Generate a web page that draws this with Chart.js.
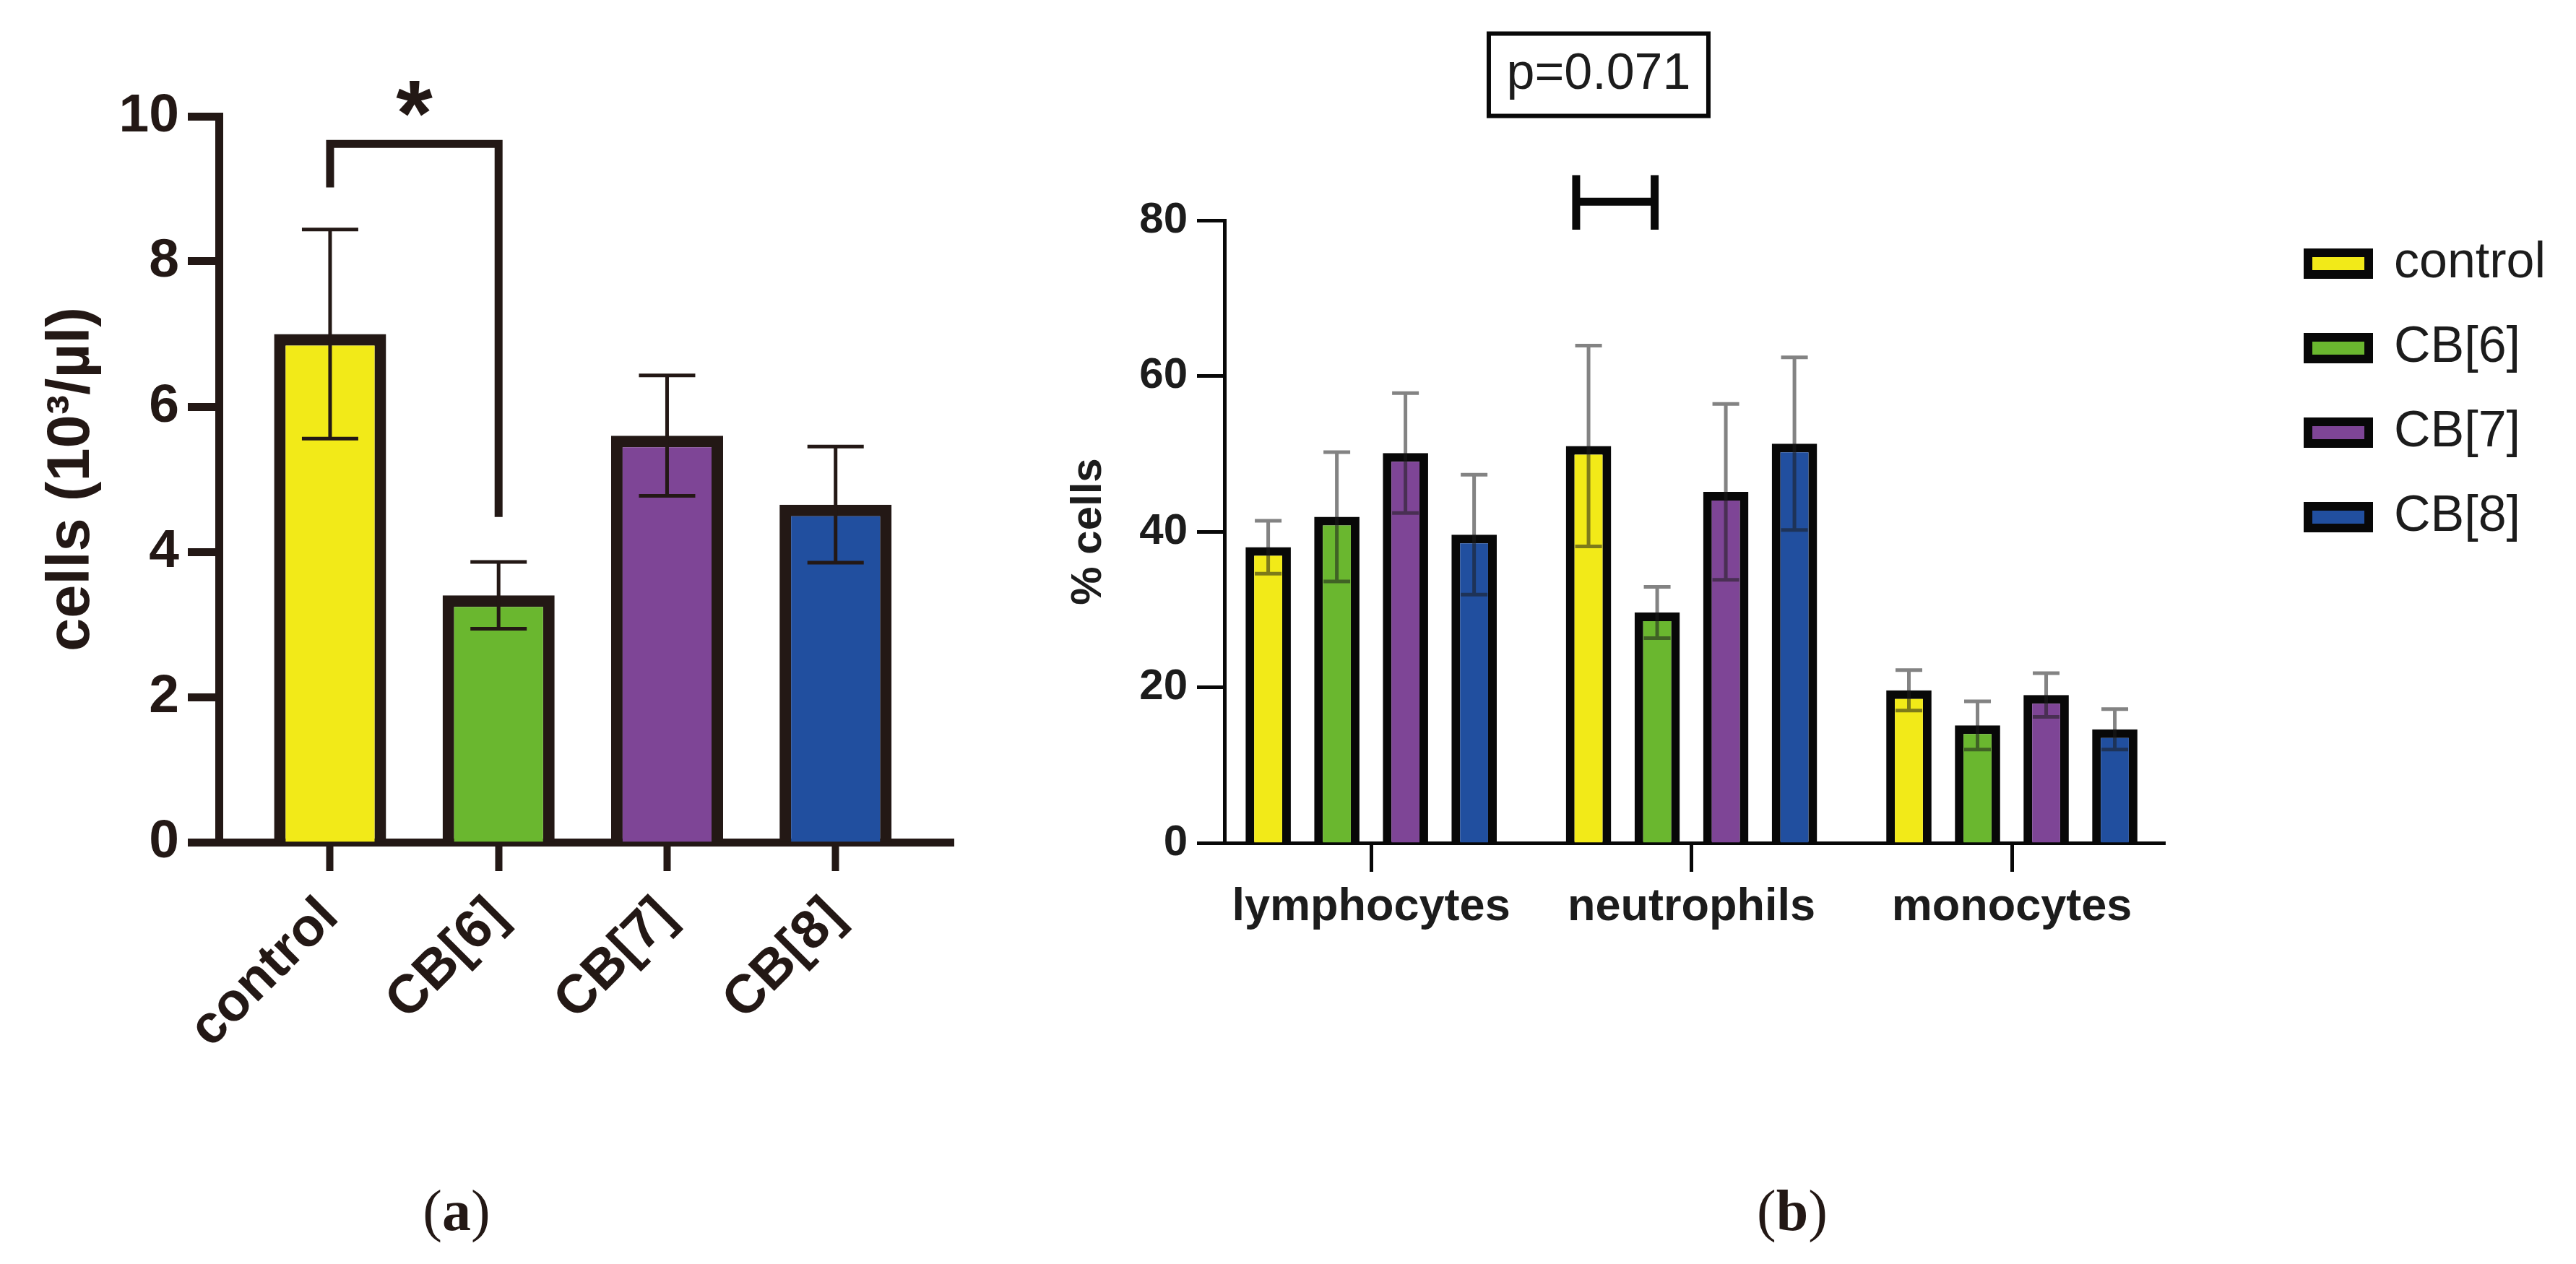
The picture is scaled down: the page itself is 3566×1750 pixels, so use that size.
<!DOCTYPE html>
<html lang="en">
  <head>
    <meta charset="UTF-8" />
    <title>Blood cell counts</title>
    <style>
      body { margin: 0; width: 3566px; height: 1750px; background: #fff; position: relative; overflow: hidden; }
      .panel { position: absolute; top: 0; }
      .caption { position: absolute; top: 1626px; width: 200px; margin-left: -100px; text-align: center;
                 font: 80px/100px "Liberation Serif", "Times New Roman", serif; color: #231815; }
    </style>
  </head>
  <body>
    <canvas id="chartA" class="panel" width="1500" height="1750" style="left:0"></canvas>
    <canvas id="chartB" class="panel" width="2116" height="1750" style="left:1450px"></canvas>
    <div class="caption" style="left:632px">(<b>a</b>)</div>
    <div class="caption" style="left:2481px">(<b>b</b>)</div>
  </body>
  <script src="https://cdn.jsdelivr.net/npm/chart.js@4"></script>
  <script>
    Chart.defaults.font.family = '"Liberation Sans", Arial, sans-serif';
    Chart.defaults.animation = false;

    // (a) total white cells
    const groupsA = ["control", "CB[6]", "CB[7]", "CB[8]"];
    const countsA = [7.0, 3.4, 5.6, 4.65];
    const countsSdA = [1.44, 0.46, 0.83, 0.8];
    const yTicksA = [0, 2, 4, 6, 8, 10];
    const sigPairA = [0, 1];              // bars joined by the bracket
    const sigLevelsA = [9.62, 9.02, 4.48, 10.24]; // top, left end, right end, star

    // (b) differential count, % cells
    const cellTypes = ["lymphocytes", "neutrophils", "monocytes"];
    const seriesNames = ["control", "CB[6]", "CB[7]", "CB[8]"];
    const controlPct = [38.0, 51.0, 19.6];
    const cb6Pct = [41.9, 29.6, 15.1];
    const cb7Pct = [50.1, 45.1, 19.0];
    const cb8Pct = [39.6, 51.3, 14.6];
    const controlSd = [3.4, 12.9, 2.6];
    const cb6Sd = [8.3, 3.3, 3.1];
    const cb7Sd = [7.7, 11.3, 2.8];
    const cb8Sd = [7.7, 11.1, 2.6];
    const yTicksB = [0, 20, 40, 60, 80];
    const sigXB = [0.64, 0.885];          // ends of the H bracket (x units)
    const sigLevelsB = [85.8, 78.8, 82.4]; // top, bottom, bar
    const pLabelB = ["p=0.071", 0.71, 98.7];

    const colors = ["#f2ea18", "#6ab72f", "#7e4596", "#214f9f"];
    const inkA = "#231815";
    const inkB = "#080808";
    const textB = "#1c1c1c";

    // error bars: mean +/- sd, taken from dataset.errors
    const errorBars = {
      id: "errorBars",
      afterDatasetsDraw(chart, args, opts) {
        const ctx = chart.ctx, y = chart.scales.y;
        chart.data.datasets.forEach((ds, di) => {
          chart.getDatasetMeta(di).data.forEach((bar, i) => {
            const v = ds.data[i].y, e = ds.errors[i];
            const top = y.getPixelForValue(v + e), bot = y.getPixelForValue(v - e);
            const h = opts.cap / 2;
            ctx.save();
            ctx.strokeStyle = opts.color;
            ctx.lineWidth = opts.width;
            ctx.beginPath();
            ctx.moveTo(bar.x, top); ctx.lineTo(bar.x, bot);
            ctx.moveTo(bar.x - h, top); ctx.lineTo(bar.x + h, top);
            ctx.moveTo(bar.x - h, bot); ctx.lineTo(bar.x + h, bot);
            ctx.stroke();
            ctx.restore();
          });
        });
      }
    };

    // move the legend away from the plot, keep its box wide enough for the text
    const nudgeLegend = {
      id: "nudgeLegend",
      afterLayout(chart, args, opts) {
        const lg = chart.legend;
        lg.left += opts.dx;
        lg.right = chart.width;
        lg.top += opts.dy; lg.bottom += opts.dy;
      }
    };

    const bracketA = {
      id: "bracketA",
      afterDraw(chart) {
        const { ctx, scales: { x, y } } = chart;
        const x0 = x.getPixelForValue(sigPairA[0]), x1 = x.getPixelForValue(sigPairA[1]);
        const yTop = y.getPixelForValue(sigLevelsA[0]);
        ctx.save();
        ctx.strokeStyle = inkA;
        ctx.lineWidth = 11;
        ctx.lineJoin = "miter";
        ctx.beginPath();
        ctx.moveTo(x0, y.getPixelForValue(sigLevelsA[1]));
        ctx.lineTo(x0, yTop);
        ctx.lineTo(x1, yTop);
        ctx.lineTo(x1, y.getPixelForValue(sigLevelsA[2]));
        ctx.stroke();
        ctx.fillStyle = inkA;
        ctx.font = 'bold 130px "Liberation Sans", Arial, sans-serif';
        ctx.textAlign = "center";
        ctx.textBaseline = "alphabetic";
        const m = ctx.measureText("*");
        const cy = y.getPixelForValue(sigLevelsA[3]);
        ctx.fillText("*", (x0 + x1) / 2, cy + (m.actualBoundingBoxAscent - m.actualBoundingBoxDescent) / 2);
        ctx.restore();
      }
    };

    const bracketB = {
      id: "bracketB",
      afterDraw(chart) {
        const { ctx, scales: { x, y } } = chart;
        const x0 = x.getPixelForValue(sigXB[0]), x1 = x.getPixelForValue(sigXB[1]);
        const yT = y.getPixelForValue(sigLevelsB[0]), yB = y.getPixelForValue(sigLevelsB[1]);
        const yM = y.getPixelForValue(sigLevelsB[2]);
        ctx.save();
        ctx.strokeStyle = inkB;
        ctx.lineWidth = 11;
        ctx.beginPath();
        ctx.moveTo(x0, yT); ctx.lineTo(x0, yB);
        ctx.moveTo(x1, yT); ctx.lineTo(x1, yB);
        ctx.moveTo(x0, yM); ctx.lineTo(x1, yM);
        ctx.stroke();
        // p value box
        const px = x.getPixelForValue(pLabelB[1]), py = y.getPixelForValue(pLabelB[2]);
        ctx.lineWidth = 6;
        ctx.strokeRect(px - 152, py - 57, 304, 114);
        ctx.fillStyle = textB;
        ctx.font = '70px "Liberation Sans", Arial, sans-serif';
        ctx.textAlign = "center";
        ctx.textBaseline = "middle";
        ctx.fillText(pLabelB[0], px, py);
        ctx.restore();
      }
    };

    new Chart(document.getElementById("chartA"), {
      type: "bar",
      data: {
        datasets: [{
          data: groupsA.map((g, i) => ({ x: i, y: countsA[i] })),
          errors: countsSdA,
          backgroundColor: colors,
          borderColor: inkA,
          borderWidth: 16,
          categoryPercentage: 1,
          barPercentage: 0.665
        }]
      },
      options: {
        responsive: false,
        devicePixelRatio: 1,
        layout: { padding: { top: 161, right: 180, bottom: 0, left: 0 } },
        plugins: {
          legend: { display: false },
          tooltip: { enabled: false },
          errorBars: { color: inkA, width: 5, cap: 78 }
        },
        scales: {
          x: {
            type: "linear", min: -0.66, max: 3.7, offset: false,
            afterBuildTicks: s => { s.ticks = groupsA.map((g, i) => ({ value: i })); },
            afterFit: s => { s.height = 584; },
            border: { color: inkA, width: 11 },
            grid: { drawOnChartArea: false, offset: false, tickLength: 40, tickWidth: 10, tickColor: inkA },
            ticks: {
              color: inkA, font: { size: 75, weight: "bold" }, minRotation: 45, maxRotation: 45,
              autoSkip: false, padding: 20, callback: (v, i) => groupsA[i]
            }
          },
          y: {
            min: yTicksA[0], max: yTicksA[yTicksA.length - 1],
            afterBuildTicks: s => { s.ticks = yTicksA.map(v => ({ value: v })); },
            afterFit: s => { s.width = 303; },
            border: { color: inkA, width: 11 },
            grid: { drawOnChartArea: false, tickLength: 43, tickWidth: 11, tickColor: inkA },
            ticks: { color: inkA, font: { size: 75, weight: "bold" }, padding: 12 },
            title: {
              display: true, text: "cells (10³/µl)", color: inkA,
              font: { size: 83, weight: "bold" }, padding: { top: 50, bottom: 0 }
            }
          }
        }
      },
      plugins: [errorBars, bracketA]
    });

    const pctB = [controlPct, cb6Pct, cb7Pct, cb8Pct];
    const sdB = [controlSd, cb6Sd, cb7Sd, cb8Sd];

    new Chart(document.getElementById("chartB"), {
      type: "bar",
      data: {
        datasets: seriesNames.map((name, s) => ({
          label: name,
          data: cellTypes.map((c, i) => ({ x: i, y: pctB[s][i] })),
          errors: sdB[s],
          backgroundColor: colors[s],
          borderColor: inkB,
          borderWidth: 12,
          categoryPercentage: 0.857,
          barPercentage: 0.66
        }))
      },
      options: {
        responsive: false,
        devicePixelRatio: 1,
        layout: { padding: { top: 305, right: 269, bottom: 0, left: 0 } },
        plugins: {
          legend: {
            position: "right", fullSize: false, align: "start", maxWidth: 300,
            labels: {
              boxWidth: 84, boxHeight: 30, padding: 47, color: textB,
              font: { size: 70 }
            }
          },
          tooltip: { enabled: false },
          nudgeLegend: { dx: 151, dy: -22 },
          errorBars: { color: "rgba(30,30,30,0.55)", width: 5, cap: 37 }
        },
        scales: {
          x: {
            type: "linear", min: -0.458, max: 2.478, offset: false,
            afterBuildTicks: s => { s.ticks = cellTypes.map((c, i) => ({ value: i })); },
            afterFit: s => { s.height = 583; },
            border: { color: inkB, width: 5 },
            grid: { drawOnChartArea: false, offset: false, tickLength: 40, tickWidth: 5, tickColor: inkB },
            ticks: {
              color: textB, font: { size: 63, weight: "bold" }, maxRotation: 0,
              autoSkip: false, padding: 12, callback: (v, i) => cellTypes[i]
            }
          },
          y: {
            min: yTicksB[0], max: yTicksB[yTicksB.length - 1],
            afterBuildTicks: s => { s.ticks = yTicksB.map(v => ({ value: v })); },
            afterFit: s => { s.width = 245; },
            border: { color: inkB, width: 5 },
            grid: { drawOnChartArea: false, tickLength: 38, tickWidth: 5, tickColor: inkB },
            ticks: { color: textB, font: { size: 60, weight: "bold" }, padding: 13 },
            title: {
              display: true, text: "% cells", color: textB,
              font: { size: 60, weight: "bold" }, padding: { top: 21, bottom: 0 }
            }
          }
        }
      },
      plugins: [errorBars, nudgeLegend, bracketB]
    });
  </script>
</html>
